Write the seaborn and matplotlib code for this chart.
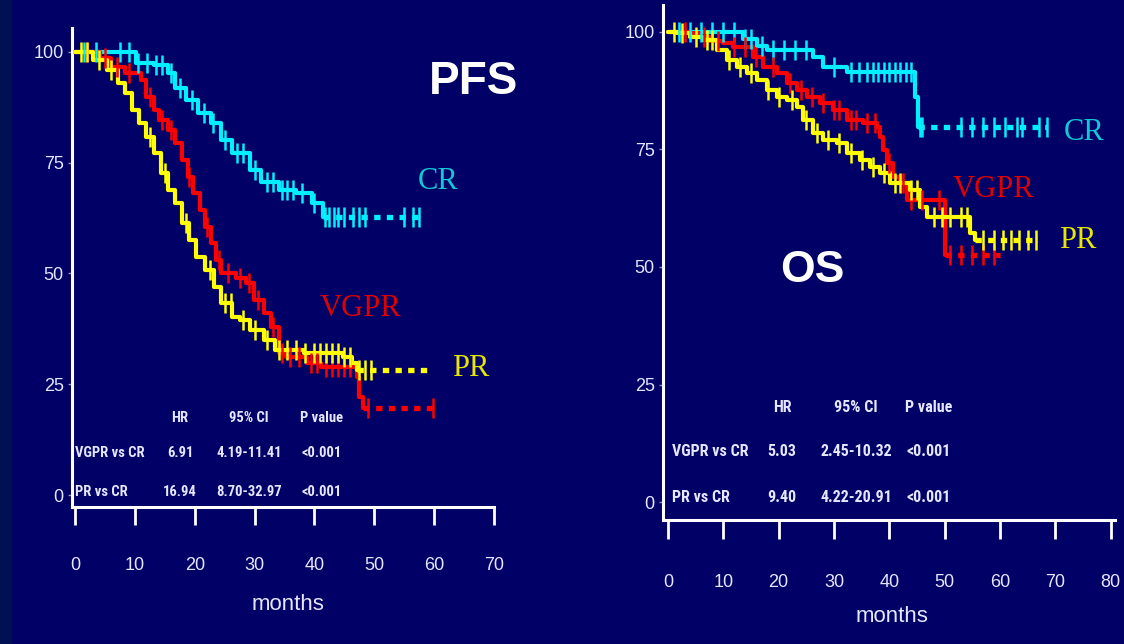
import numpy as np
import pandas as pd
import matplotlib
matplotlib.use("Agg")
import matplotlib.pyplot as plt
import seaborn as sns
from matplotlib.patches import Rectangle
from matplotlib import font_manager

# ---------------- data ----------------
x_ticks = [0, 10, 20, 30, 40, 50, 60, 70]
x_ticks_os = [0, 10, 20, 30, 40, 50, 60, 70, 80]
y_ticks = [0, 25, 50, 75, 100]

# PFS curves (event times, survival after event), last follow-up time
pfs_cr_t = [0, 10.2, 13.2, 15.5, 16.7, 18.5, 20.5, 22.7, 24.4, 26.2, 29.2, 31.1, 34.1, 37.0, 39.6, 41.4]
pfs_cr_s = [100, 97.5, 97, 95.2, 91.9, 89.2, 86.2, 84, 80.1, 77.2, 73.4, 70.7, 68.8, 68.2, 65.9, 62.8]
pfs_cr_end = 57.8
pfs_cr_c = [1.5, 3.5, 7.5, 9, 10.5, 12, 13.5, 14.5, 16, 17.5, 19.5, 21.5, 23, 25, 27, 28, 30, 32, 33, 34.5,
            35.5, 36.5, 38, 40, 41.8, 42.5, 43.3, 44, 45, 46.5, 47.5, 48.5, 55, 56.5, 57.5]

pfs_vg_t = [0, 4.2, 6.0, 8.4, 11.0, 11.9, 13.2, 14.0, 15.5, 16.7, 17.9, 18.9, 19.7, 20.9, 21.7, 22.7, 23.6,
            24.4, 26.9, 28.6, 29.9, 31.6, 32.7, 34.1, 35.2, 38.8, 41.1, 47.1, 47.4, 48.1]
pfs_vg_s = [100, 98.6, 96.6, 95.2, 93.7, 89.8, 86.9, 84.6, 82.4, 79.5, 75.6, 71.8, 68.2, 64.3, 60.5, 56.9, 53.0,
            50.1, 49.0, 47.9, 44.0, 41.1, 38.0, 32.0, 31.2, 29.8, 28.9, 26.6, 22.1, 19.6]
pfs_vg_end = 60.0
pfs_vg_c = [2, 5, 7, 9, 12.5, 14.5, 16, 19, 22, 24, 25.5, 27.5, 29, 30.5, 33, 34.5, 36, 37.5, 39.5, 40.5,
            42, 43, 44, 45, 46, 49, 59.8]

pfs_pr_t = [0, 3.0, 5.3, 7.2, 8.4, 9.5, 10.7, 11.9, 13.2, 14.4, 15.5, 16.7, 17.9, 19.0, 20.2, 21.7, 23.2,
            24.4, 26.2, 27.5, 29.2, 31.6, 33.4, 38.3, 44.8, 46.3, 47.1]
pfs_pr_s = [100, 98.2, 95.9, 93.0, 90.7, 86.9, 84.0, 80.8, 77.2, 72.7, 68.8, 65.9, 61.4, 57.6, 53.7, 50.8, 47.0,
            43.3, 40.2, 39.5, 37.2, 35.0, 32.7, 32.0, 31.2, 29.8, 28.2]
pfs_pr_end = 59.3
pfs_pr_c = [1, 2, 4, 6, 12.5, 15, 18.5, 22.5, 25, 26, 28, 30, 32, 34, 35.5, 37, 38.5, 40, 41, 42, 43, 44,
            45, 46, 47.5, 48.5, 49.5]

# OS curves
os_cr_t = [0, 13.6, 16.1, 17.9, 26.2, 28.0, 32.4, 44.7, 45.2]
os_cr_s = [100, 98.5, 97, 96.2, 94.7, 92.6, 91.5, 86.2, 79.8]
os_cr_end = 68.5
os_cr_c = [2, 4, 6, 8, 10, 12, 14, 15, 17, 19, 21, 23, 25, 30, 33, 34.5, 36, 37, 38, 39, 40, 41, 42, 43,
           44, 45.5, 46, 53, 55, 57, 59, 61, 63, 64, 67, 68.5]

os_vg_t = [0, 4.0, 5.8, 7.6, 9.9, 11.8, 15.4, 17.2, 19.7, 21.5, 23.3, 25.1, 27.5, 29.8, 32.4, 35.3, 37.8,
           38.3, 38.9, 39.6, 40.7, 42.0, 43.2, 50.1]
os_vg_s = [100, 99.8, 99, 98, 97.7, 96.8, 94.7, 92.6, 91.2, 89.1, 87.7, 86.2, 84.9, 83.4, 81.3, 80.6, 79.8,
           77.7, 74.9, 72.1, 69.1, 67.9, 64.3, 52.5]
os_vg_end = 60.0
os_vg_c = [3, 6.5, 9, 12, 14, 16, 19, 22, 24, 26, 28, 30, 31, 33, 34, 36, 37.5, 40, 42.5, 44, 46, 49,
           51, 53, 55, 57, 59]

os_pr_t = [0, 1.6, 4.0, 6.3, 8.9, 10.7, 12.5, 14.3, 16.1, 17.9, 19.7, 21.5, 23.3, 24.4, 26.2, 28.0, 30.6,
           32.4, 34.7, 36.5, 38.3, 40.1, 43.8, 45.6, 46.8, 54.6, 55.5]
os_pr_s = [100, 99.8, 99, 98.3, 96.2, 94, 92.6, 91.2, 89.8, 87.7, 86.2, 85.5, 84, 81.3, 78.5, 77, 76.4,
           74.3, 72.8, 71.3, 70, 67.9, 66.4, 62.8, 60.6, 57.2, 55.7]
os_pr_end = 66.9
os_pr_c = [1, 2.5, 5, 7, 8, 11, 13, 15, 18, 20, 22.5, 25, 27, 29, 31, 33, 35, 37, 39, 41, 42, 44, 45, 48,
           49.5, 51, 53, 54, 57, 59, 60.5, 62, 63.5, 65, 66.5]

table_header = ["HR", "95% CI", "P value"]
table_rows = ["VGPR vs CR", "PR vs CR"]
pfs_hr = ["6.91", "16.94"]
pfs_ci = ["4.19-11.41", "8.70-32.97"]
pfs_p = ["<0.001", "<0.001"]
os_hr = ["5.03", "9.40"]
os_ci = ["2.45-10.32", "4.22-20.91"]
os_p = ["<0.001", "<0.001"]

# ---------------- style ----------------
BG = "#000066"
TXT = "#e6e6ff"
C_CR, C_VG, C_PR = "#00f0ff", "#ff0000", "#ffff00"

sns.set_theme(style="white")
plt.rcParams["font.family"] = ["Liberation Sans", "DejaVu Sans"]

# narrow font for the table if a condensed face is installed
names = {f.name for f in font_manager.fontManager.ttflist}
narrow_name = None
for cand in ["Liberation Sans Narrow", "Roboto Condensed", "Open Sans Condensed", "DejaVu Sans Condensed"]:
    if cand in names:
        narrow_name = cand
        break
if narrow_name:
    TABLE_KW = dict(family=[narrow_name, "Liberation Sans"])
else:
    dv_cond = [f for f in font_manager.fontManager.ttflist if f.name == "DejaVu Sans" and "Condensed" in f.fname]
    if dv_cond:
        TABLE_KW = dict(family=["DejaVu Sans"], stretch="condensed")
    else:
        TABLE_KW = dict(family=["Liberation Sans"])
HAS_NARROW = bool(narrow_name or TABLE_KW.get("stretch"))

W, H = 1124, 644
fig = plt.figure(figsize=(W / 100, H / 100), dpi=100, facecolor=BG)
fig.patches.append(Rectangle((0, 0), 11 / W, 1, transform=fig.transFigure, color="#001153", zorder=0))


def fx(px):
    return px / W


def fy(py):
    return 1 - py / H


ax1 = fig.add_axes([fx(72), fy(507), 422 / W, (507 - 28) / H])
ax2 = fig.add_axes([fx(663), fy(520), 452 / W, (520 - 5) / H])


def km(ax, t, s, end, cens, color, lw=3.0):
    t = np.asarray(t, float)
    s = np.asarray(s, float)
    df = pd.DataFrame({"month": t, "surv": s})
    sns.lineplot(data=df, x="month", y="surv", drawstyle="steps-post", estimator=None, sort=False,
                 color=color, lw=lw, ax=ax, zorder=3)
    tail = pd.DataFrame({"month": [t[-1], end], "surv": [s[-1], s[-1]]})
    sns.lineplot(data=tail, x="month", y="surv", estimator=None, sort=False, color=color, lw=3.8,
                 linestyle=(0, (1.2, 1.2)), ax=ax, zorder=3)
    c = np.asarray(cens, float)
    idx = np.searchsorted(t, c, side="right") - 1
    cs = s[idx]
    sns.scatterplot(x=c, y=cs, marker="|", s=210, linewidth=1.8, color=color, ax=ax, zorder=4)


for ax, xl, yl, xt, tl in [(ax1, (-0.5, 70), (-2.7, 105.4), x_ticks, 13),
                           (ax2, (-0.9, 80.8), (-3.8, 105.7), x_ticks_os, 14)]:
    ax.set_facecolor(BG)
    for sp in ["top", "right"]:
        ax.spines[sp].set_visible(False)
    for sp in ["left", "bottom"]:
        ax.spines[sp].set_color("white")
        ax.spines[sp].set_linewidth(2.2)
    ax.set_xlim(*xl)
    ax.set_ylim(*yl)
    ax.set_xticks(xt)
    ax.set_yticks(y_ticks)
    ax.tick_params(axis="x", direction="out", length=tl, width=2, color="white", pad=23 if ax is ax1 else 25,
                   labelsize=13, labelcolor=TXT, bottom=True)
    ax.tick_params(axis="y", direction="out", length=3, width=1, color="#9090c0", pad=3,
                   labelsize=13, labelcolor=TXT, left=True)
    ax.grid(False)

km(ax1, pfs_cr_t, pfs_cr_s, pfs_cr_end, pfs_cr_c, C_CR)
km(ax1, pfs_vg_t, pfs_vg_s, pfs_vg_end, pfs_vg_c, C_VG)
km(ax1, pfs_pr_t, pfs_pr_s, pfs_pr_end, pfs_pr_c, C_PR)
km(ax2, os_cr_t, os_cr_s, os_cr_end, os_cr_c, C_CR)
km(ax2, os_vg_t, os_vg_s, os_vg_end, os_vg_c, C_VG)
km(ax2, os_pr_t, os_pr_s, os_pr_end, os_pr_c, C_PR)
for ax in (ax1, ax2):
    ax.set_xlabel("")
    ax.set_ylabel("")

# axis titles
fig.text(fx(288), fy(605), "months", ha="center", va="center", fontsize=16, color=TXT)
fig.text(fx(892), fy(617), "months", ha="center", va="center", fontsize=16, color=TXT)

# panel titles
fig.text(fx(473), fy(82), "PFS", ha="center", va="center", fontsize=33, fontweight="bold", color="white")
fig.text(fx(812), fy(270), "OS", ha="center", va="center", fontsize=32, fontweight="bold", color="white")

# curve labels
serif = ["Liberation Serif", "DejaVu Serif"]
for x, y, s, c in [(438, 182, "CR", "#10c8d8"), (360, 309, "VGPR", "#e00000"), (471, 368, "PR", "#e6e600"),
                   (1084, 133, "CR", "#10c8d8"), (993, 190, "VGPR", "#e00000"), (1078, 240, "PR", "#e6e600")]:
    fig.text(fx(x), fy(y), s, ha="center", va="center", fontsize=22, color=c, family=serif)


def table(x_row, x_hr, x_ci, x_p, y_head, y1, y2, hr, ci, p, fs):
    kw = dict(ha="center", va="center", fontsize=fs, color=TXT, fontweight="bold", **TABLE_KW)
    for xx, h in zip([x_hr, x_ci, x_p], table_header):
        fig.text(fx(xx), fy(y_head), h, **kw)
    for yy, rname, a, b, cc in zip([y1, y2], table_rows, hr, ci, p):
        kl = dict(kw)
        kl["ha"] = "left"
        fig.text(fx(x_row), fy(yy), rname, **kl)
        fig.text(fx(x_hr), fy(yy), a, **kw)
        fig.text(fx(x_ci), fy(yy), b, **kw)
        fig.text(fx(x_p), fy(yy), cc, **kw)


fs_pfs = 10.5 if HAS_NARROW else 8.5
fs_os = 11.5 if HAS_NARROW else 9.2
table(75, 180, 249, 322, 418, 453, 492, pfs_hr, pfs_ci, pfs_p, fs_pfs)
table(672, 782, 856, 929, 408, 452, 497, os_hr, os_ci, os_p, fs_os)

fig.savefig("out.png", dpi=100, facecolor=BG)
